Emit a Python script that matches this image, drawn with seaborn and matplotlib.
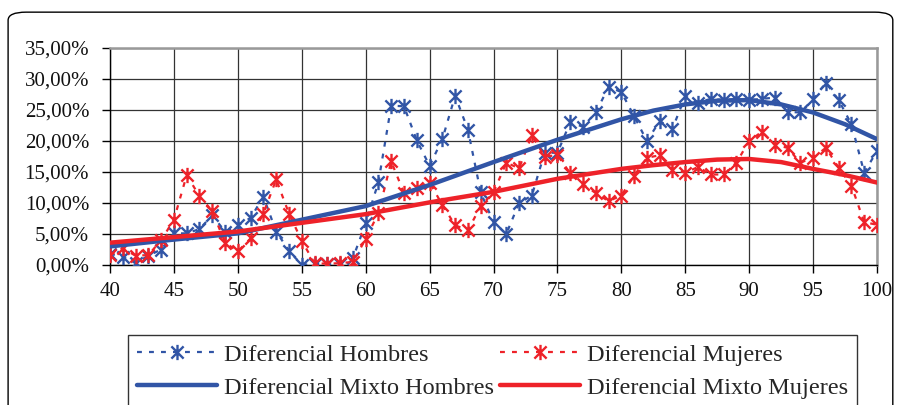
import numpy as np
import pandas as pd
import matplotlib
matplotlib.use("Agg")
import matplotlib.pyplot as plt
from matplotlib.path import Path
from matplotlib.patches import FancyBboxPatch
from matplotlib.ticker import FuncFormatter, MultipleLocator
import seaborn as sns

ages = list(range(40, 101))

dif_hombres = [1.8, 1.3, 0.3, 1.5, 2.5, 5.1, 5.1, 5.8, 8.0, 5.4,
               6.4, 7.6, 11.0, 5.4, 2.3, 0.0, 0.2, 0.1, 0.2, 1.1,
               6.7, 13.4, 25.7, 25.6, 20.1, 16.0, 20.3, 27.3, 21.8, 11.7,
               6.9, 5.0, 10.0, 11.2, 18.1, 18.1, 23.0, 22.3, 24.6, 28.7,
               27.9, 24.0, 20.0, 23.2, 22.0, 27.2, 26.2, 26.8, 26.6, 26.8,
               26.6, 26.8, 27.0, 24.7, 24.6, 26.7, 29.4, 26.6, 22.7, 14.9,
               18.4]

dif_mujeres = [1.6, 2.7, 1.5, 1.6, 4.0, 7.3, 14.5, 11.1, 8.7, 3.6,
               2.2, 4.3, 8.3, 13.8, 8.3, 3.9, 0.3, 0.2, 0.3, 0.5,
               4.2, 8.4, 16.7, 11.6, 12.4, 13.3, 9.7, 6.4, 5.6, 9.5,
               11.7, 16.5, 15.6, 20.9, 17.5, 17.7, 14.8, 13.0, 11.6, 10.3,
               11.2, 14.4, 17.3, 17.7, 15.4, 14.9, 15.8, 14.6, 14.6, 16.5,
               20.0, 21.5, 19.4, 18.9, 16.5, 17.3, 18.9, 15.7, 12.8, 6.9,
               6.5]

mixto_ages = [40, 45, 50, 55, 60, 65, 70, 75, 80, 82.5, 85, 87.5, 90, 92.5, 95, 97.5, 100]
mixto_hombres = [3.0, 4.1, 5.1, 7.3, 9.5, 12.9, 16.6, 20.2, 23.5, 24.9, 25.9, 26.5, 26.6,
                 25.9, 24.6, 22.7, 20.3]
mixto_mujeres = [3.6, 4.5, 5.4, 6.8, 8.2, 10.1, 11.8, 13.9, 15.5, 16.1, 16.6, 17.0, 17.1,
                 16.6, 15.5, 14.5, 13.3]

labels = ["Diferencial Hombres", "Diferencial Mujeres",
          "Diferencial Mixto Hombres", "Diferencial Mixto Mujeres"]

BLUE = "#3155A6"
RED = "#EE2229"

sns.set_theme(style="white")
plt.rcParams["font.family"] = ["Liberation Serif", "DejaVu Serif"]

fig = plt.figure(figsize=(9, 4.05), dpi=100)
ax = fig.add_axes([110 / 900, 1 - 265 / 405, (877 - 110) / 900, (265 - 48) / 405])

star = Path([(-1, -1), (1, 1), (-1, 1), (1, -1), (0, -1.25), (0, 1.25)],
            [Path.MOVETO, Path.LINETO, Path.MOVETO, Path.LINETO, Path.MOVETO, Path.LINETO])

df = pd.DataFrame({"age": ages, "h": dif_hombres, "m": dif_mujeres})
dm = pd.DataFrame({"age": mixto_ages, "h": mixto_hombres, "m": mixto_mujeres})

sns.lineplot(data=df, x="age", y="h", ax=ax, color=BLUE, linestyle=(0, (2.2, 3.2)),
             linewidth=1.6, marker=star, markersize=11, markeredgewidth=1.7,
             markeredgecolor=BLUE, markerfacecolor="none", label=labels[0], zorder=3)
sns.lineplot(data=df, x="age", y="m", ax=ax, color=RED, linestyle=(0, (2.2, 3.2)),
             linewidth=1.6, marker=star, markersize=11, markeredgewidth=1.7,
             markeredgecolor=RED, markerfacecolor="none", label=labels[1], zorder=4)
sns.lineplot(data=dm, x="age", y="h", ax=ax, color=BLUE, linewidth=3.2,
             label=labels[2], zorder=5)
sns.lineplot(data=dm, x="age", y="m", ax=ax, color=RED, linewidth=3.2,
             label=labels[3], zorder=6)

ax.set_xlim(40, 100)
ax.set_ylim(0, 35)
ax.xaxis.set_major_locator(MultipleLocator(5))
ax.yaxis.set_major_locator(MultipleLocator(5))
ax.yaxis.set_major_formatter(FuncFormatter(lambda v, p: f"{v:.2f}%".replace(".", ",")))
ax.set_xlabel("")
ax.set_ylabel("")
ax.grid(True, color="#333333", linewidth=0.9)
ax.set_axisbelow(True)
for s in ["top", "right"]:
    ax.spines[s].set_color("#999999")
    ax.spines[s].set_linewidth(1.8)
for s in ["left", "bottom"]:
    ax.spines[s].set_color("black")
    ax.spines[s].set_linewidth(1.0)
ax.tick_params(axis="both", which="major", length=6, width=1, color="black",
               labelsize=15, labelcolor="#111111", direction="out")
ax.tick_params(axis="x", pad=6)
ax.tick_params(axis="y", pad=9)
ax.xaxis.set_ticks_position("bottom")
ax.yaxis.set_ticks_position("left")

handles, _ = ax.get_legend_handles_labels()
ax.get_legend().remove()
order = [0, 2, 1, 3]
leg = fig.legend([handles[i] for i in order], [labels[i] for i in order], ncol=2,
                 loc="lower left",
                 bbox_to_anchor=(128 / 900, -0.005, (857 - 128) / 900, 72 / 405),
                 mode="expand", frameon=True, fancybox=False, fontsize=17.5,
                 handlelength=3.3, handletextpad=0.3, columnspacing=0.2,
                 labelspacing=0.45, borderpad=0.35, borderaxespad=0.0, numpoints=1)
leg.get_frame().set_edgecolor("black")
leg.get_frame().set_linewidth(1.0)

border = FancyBboxPatch((0.009, -0.03), 0.983, 1.0,
                        boxstyle="round,pad=0,rounding_size=0.02",
                        transform=fig.transFigure, fill=False, ec="black", lw=1.0)
fig.patches.append(border)

fig.savefig("out.png", dpi=100)
